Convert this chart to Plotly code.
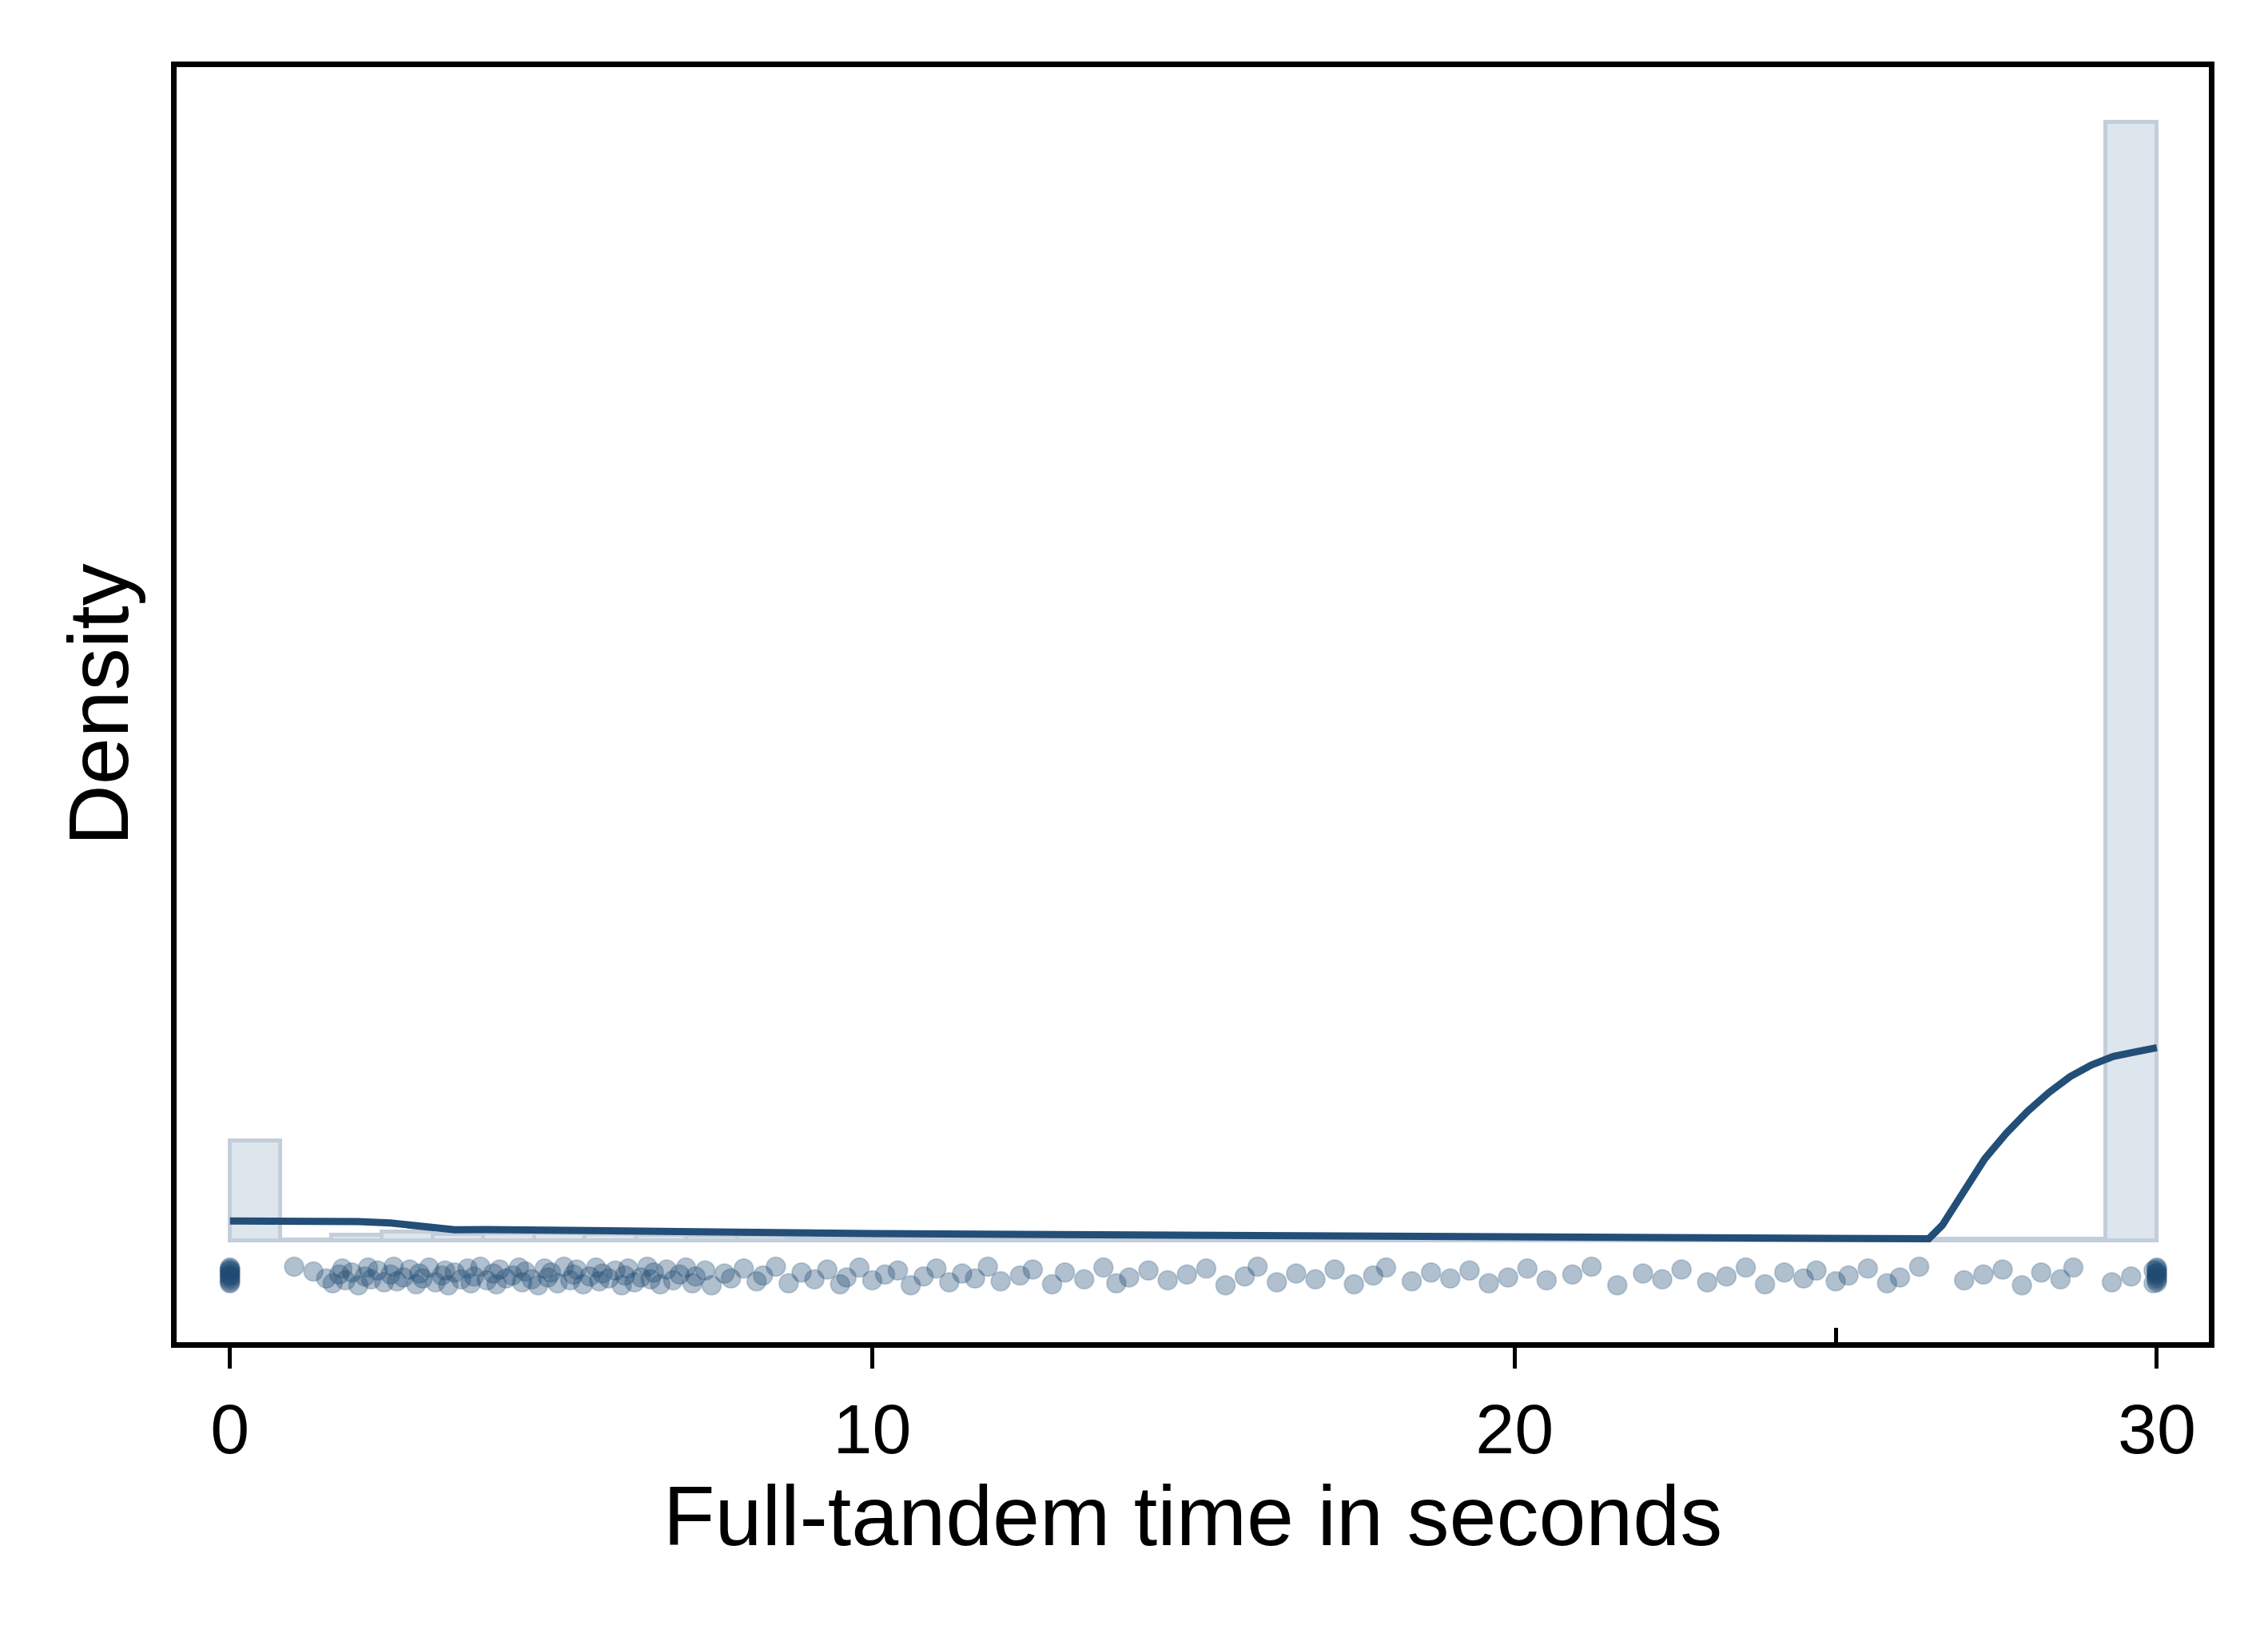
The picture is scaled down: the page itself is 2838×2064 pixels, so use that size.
import plotly.graph_objects as go

# histogram (density), bin width ~0.79 s
bin_left = [0.0, 0.79, 1.58, 2.37, 3.16, 3.95, 4.74, 5.53, 6.32, 7.11, 7.89, 8.68,
            9.47, 10.26, 11.05, 11.84, 12.63, 13.42, 14.21, 15.0, 15.79, 16.58, 17.37,
            18.16, 18.95, 19.74, 20.53, 21.32, 22.11, 22.89, 23.68, 24.47, 25.26, 26.05,
            26.84, 27.63, 28.42, 29.21]
bin_dens = [0.051, 0.0005, 0.003, 0.0045, 0.0035, 0.0038, 0.004, 0.0035, 0.003, 0.0028,
            0.0025, 0.0024, 0.0022, 0.002, 0.0021, 0.0019, 0.0018, 0.0018, 0.0017, 0.0017,
            0.0016, 0.0016, 0.0015, 0.0015, 0.0015, 0.0014, 0.0014, 0.0014, 0.0013, 0.0013,
            0.0013, 0.0012, 0.0012, 0.0011, 0.001, 0.001, 0.001, 0.57]
bin_w = 0.79

# kernel density curve
kde_x = [0, 1, 2, 2.5, 3, 3.5, 4, 5, 7, 10, 15, 20, 25, 26.45, 26.66, 26.99, 27.32, 27.66,
         27.99, 28.32, 28.65, 28.98, 29.32, 29.65, 30]
kde_y = [0.0103, 0.0105, 0.0099, 0.0092, 0.0078, 0.0058, 0.0059, 0.0058, 0.0049, 0.0038,
         0.0030, 0.0024, 0.0022, 0.0012, 0.0081, 0.0243, 0.0419, 0.0551, 0.0662, 0.0757,
         0.0838, 0.0897, 0.0941, 0.0963, 0.0985]

# jittered observations
obs_x = [1.0, 1.3, 1.5, 1.6, 1.7, 1.75, 1.8, 1.9, 2.0, 2.1, 2.15, 2.2, 2.3, 2.4, 2.5, 2.55,
         2.6, 2.7, 2.8, 2.9, 2.95, 3.0, 3.1, 3.2, 3.3, 3.35, 3.4, 3.5, 3.6, 3.7, 3.75, 3.8,
         3.9, 4.0, 4.1, 4.15, 4.2, 4.3, 4.4, 4.5, 4.55, 4.6, 4.7, 4.8, 4.9, 4.95, 5.0, 5.1,
         5.2, 5.3, 5.35, 5.4, 5.5, 5.6, 5.7, 5.75, 5.8, 5.9, 6.0, 6.1, 6.15, 6.2, 6.3, 6.4,
         6.5, 6.55, 6.6, 6.7, 6.8, 6.9, 7.0, 7.1, 7.2, 7.25, 7.4, 7.5, 7.7, 7.8, 8.0, 8.2,
         8.3, 8.5, 8.7, 8.9, 9.1, 9.3, 9.5, 9.6, 9.8, 10.0, 10.2, 10.4, 10.6, 10.8, 11.0,
         11.2, 11.4, 11.6, 11.8, 12.0, 12.3, 12.5, 12.8, 13.0, 13.3, 13.6, 13.8, 14.0, 14.3,
         14.6, 14.9, 15.2, 15.5, 15.8, 16.0, 16.3, 16.6, 16.9, 17.2, 17.5, 17.8, 18.0, 18.4,
         18.7, 19.0, 19.3, 19.6, 19.9, 20.2, 20.5, 20.9, 21.2, 21.6, 22.0, 22.3, 22.6, 23.0,
         23.3, 23.6, 23.9, 24.2, 24.5, 24.7, 25.0, 25.2, 25.5, 25.8, 26.0, 26.3, 27.0, 27.3,
         27.6, 27.9, 28.2, 28.5, 28.7, 29.3, 29.6,
         0, 0, 0, 0, 0, 0, 0, 0, 0, 0, 0, 0,
         30, 30, 30, 30, 30, 30, 30, 30, 30, 30, 29.95, 29.95]
obs_y = [-0.0130, -0.0155, -0.0190, -0.0215, -0.0170, -0.0140, -0.0200, -0.0160, -0.0225,
         -0.0180, -0.0135, -0.0195, -0.0150, -0.0210, -0.0170, -0.0130, -0.0205, -0.0185,
         -0.0145, -0.0220, -0.0165, -0.0190, -0.0135, -0.0210, -0.0175, -0.0150, -0.0225,
         -0.0160, -0.0195, -0.0140, -0.0215, -0.0180, -0.0130, -0.0200, -0.0165, -0.0220,
         -0.0145, -0.0190, -0.0175, -0.0135, -0.0210, -0.0155, -0.0195, -0.0225, -0.0140,
         -0.0185, -0.0160, -0.0215, -0.0130, -0.0200, -0.0170, -0.0145, -0.0220, -0.0180,
         -0.0135, -0.0205, -0.0165, -0.0190, -0.0150, -0.0225, -0.0175, -0.0140, -0.0210,
         -0.0185, -0.0130, -0.0195, -0.0160, -0.0220, -0.0145, -0.0200, -0.0170, -0.0135,
         -0.0215, -0.0180, -0.0150, -0.0225, -0.0165, -0.0190, -0.0140, -0.0205, -0.0175,
         -0.0130, -0.0215, -0.0160, -0.0195, -0.0145, -0.0220, -0.0185, -0.0135, -0.0200,
         -0.0170, -0.0150, -0.0225, -0.0180, -0.0140, -0.0210, -0.0165, -0.0190, -0.0130,
         -0.0205, -0.0175, -0.0145, -0.0220, -0.0160, -0.0195, -0.0135, -0.0215, -0.0185,
         -0.0150, -0.0200, -0.0170, -0.0140, -0.0225, -0.0180, -0.0130, -0.0210, -0.0165,
         -0.0195, -0.0145, -0.0220, -0.0175, -0.0135, -0.0205, -0.0160, -0.0190, -0.0150,
         -0.0215, -0.0185, -0.0140, -0.0200, -0.0170, -0.0130, -0.0225, -0.0165, -0.0195,
         -0.0145, -0.0210, -0.0180, -0.0135, -0.0220, -0.0160, -0.0190, -0.0150, -0.0205,
         -0.0175, -0.0140, -0.0215, -0.0185, -0.0130, -0.0200, -0.0170, -0.0145, -0.0225,
         -0.0160, -0.0195, -0.0135, -0.0210, -0.0180, -0.0150,
         -0.0135, -0.0140, -0.0150, -0.0160, -0.0170, -0.0175, -0.0180, -0.0190, -0.0200,
         -0.0210, -0.0215, -0.0165,
         -0.0135, -0.0140, -0.0150, -0.0160, -0.0170, -0.0180, -0.0190, -0.0200, -0.0210,
         -0.0215, -0.0150, -0.0200]

navy = "#234e77"

fig = go.Figure()
fig.add_trace(go.Bar(
    x=bin_left, y=bin_dens, width=bin_w, offset=0,
    marker=dict(color="#dde5ed", line=dict(color="#c3cedb", width=5)),
))
fig.add_trace(go.Scatter(
    x=obs_x, y=obs_y, mode="markers",
    marker=dict(color="rgba(31,74,115,0.35)", size=24,
                line=dict(color="rgba(31,74,115,0.2)", width=2)),
))
fig.add_trace(go.Scatter(
    x=kde_x, y=kde_y, mode="lines", line=dict(color=navy, width=9, shape="linear"),
))
# minor inside tick at 25
fig.add_trace(go.Scatter(x=[25], y=[None], xaxis="x2", showlegend=False))

fig.update_layout(
    width=2838, height=2064,
    paper_bgcolor="white", plot_bgcolor="white",
    showlegend=False, bargap=0,
    margin=dict(l=213, r=82, t=76, b=392),
    font=dict(family="Liberation Sans, Arial", size=88, color="black"),
    xaxis=dict(
        range=[-0.83, 30.81], tickvals=[0, 10, 20, 30],
        ticks="outside", ticklen=26, tickwidth=5, tickcolor="black",
        showgrid=False, zeroline=False,
        showline=True, linecolor="black", linewidth=7, mirror=True,
        title=dict(text="Full-tandem time in seconds", standoff=10),
    ),
    xaxis2=dict(
        overlaying="x", range=[-0.83, 30.81], tickvals=[25], ticktext=[""],
        ticks="inside", ticklen=18, tickwidth=5, tickcolor="black",
        showgrid=False, zeroline=False, side="bottom", anchor="y",
    ),
    yaxis=dict(
        range=[-0.0515, 0.598], showticklabels=False, ticks="",
        showgrid=False, zeroline=False,
        showline=True, linecolor="black", linewidth=7, mirror=True,
        title=dict(text="Density", standoff=20),
    ),
)

fig.write_html("out.html")
